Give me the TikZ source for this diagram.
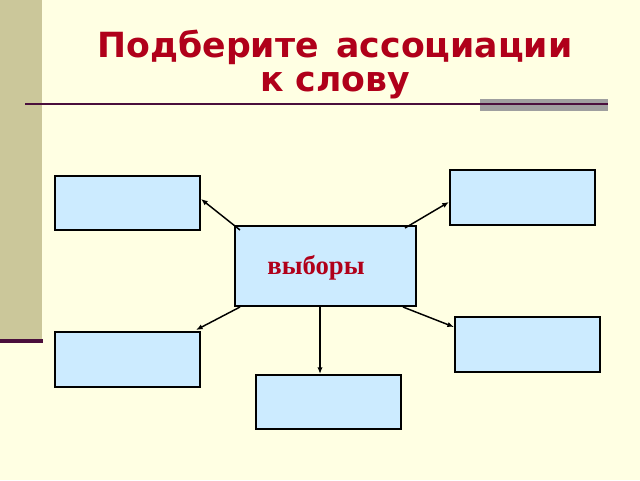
\documentclass[tikz,border=0pt]{standalone}
\usepackage{fontspec}
\setmainfont{Liberation Serif}
\newfontfamily\titlefont{DejaVu Sans}
\usetikzlibrary{arrows.meta}
\definecolor{bg}{HTML}{FFFFE3}
\definecolor{strip}{HTML}{CBC79A}
\definecolor{boxfill}{HTML}{CCEBFF}
\definecolor{tred}{HTML}{B0001A}
\definecolor{plum}{HTML}{4A0F3C}
\tikzset{
 wbox/.style={draw=black,line width=1.5pt,fill=boxfill,inner sep=0pt},
 arr/.style={draw=black,line width=1.1pt,-{Latex[length=5pt,width=4pt]}}
}
\begin{document}
\begin{tikzpicture}[x=0.75pt,y=-0.75pt]
\fill[bg] (0,0) rectangle (640,480);
\useasboundingbox (0,0) rectangle (640,480);
\fill[strip] (0,0) rectangle (42,340);
\fill[plum] (0,339) rectangle (43,343);
\fill[gray!75] (480,99) rectangle (608,111);
\draw[plum,line width=1pt] (25,104) -- (608,104);
\node[font=\titlefont\bfseries\fontsize{26}{28}\selectfont,text=tred] (t1) at (335,47) {Подберите\, ассоциации};
\node[font=\titlefont\bfseries\fontsize{26}{28}\selectfont,text=tred] (t2) at (335,86) {к слову};
\node[wbox,minimum width=181*0.75pt,minimum height=80*0.75pt,anchor=north west] (c) at (234,225) {};
\node[font=\bfseries\fontsize{20}{22}\selectfont,text=tred] (ct) at (316,268) {выборы};
\node[wbox,minimum width=145*0.75pt,minimum height=54*0.75pt,anchor=north west] (tl) at (54,175) {};
\node[wbox,minimum width=145*0.75pt,minimum height=55*0.75pt,anchor=north west] (tr) at (449,169) {};
\node[wbox,minimum width=145*0.75pt,minimum height=55*0.75pt,anchor=north west] (bl) at (54,331) {};
\node[wbox,minimum width=145*0.75pt,minimum height=55*0.75pt,anchor=north west] (br) at (454,316) {};
\node[wbox,minimum width=145*0.75pt,minimum height=54*0.75pt,anchor=north west] (bm) at (255,374) {};
\draw[arr] (240,230) -- (tl.east |- 0,199);
\draw[arr] (405,228) -- (tr.west |- 0,202);
\draw[arr] (240,307) -- (196,330);
\draw[arr] (320,305) -- (bm.north -| 320,0);
\draw[arr] (403,307) -- (br.west |- 0,327);
\end{tikzpicture}
\end{document}
